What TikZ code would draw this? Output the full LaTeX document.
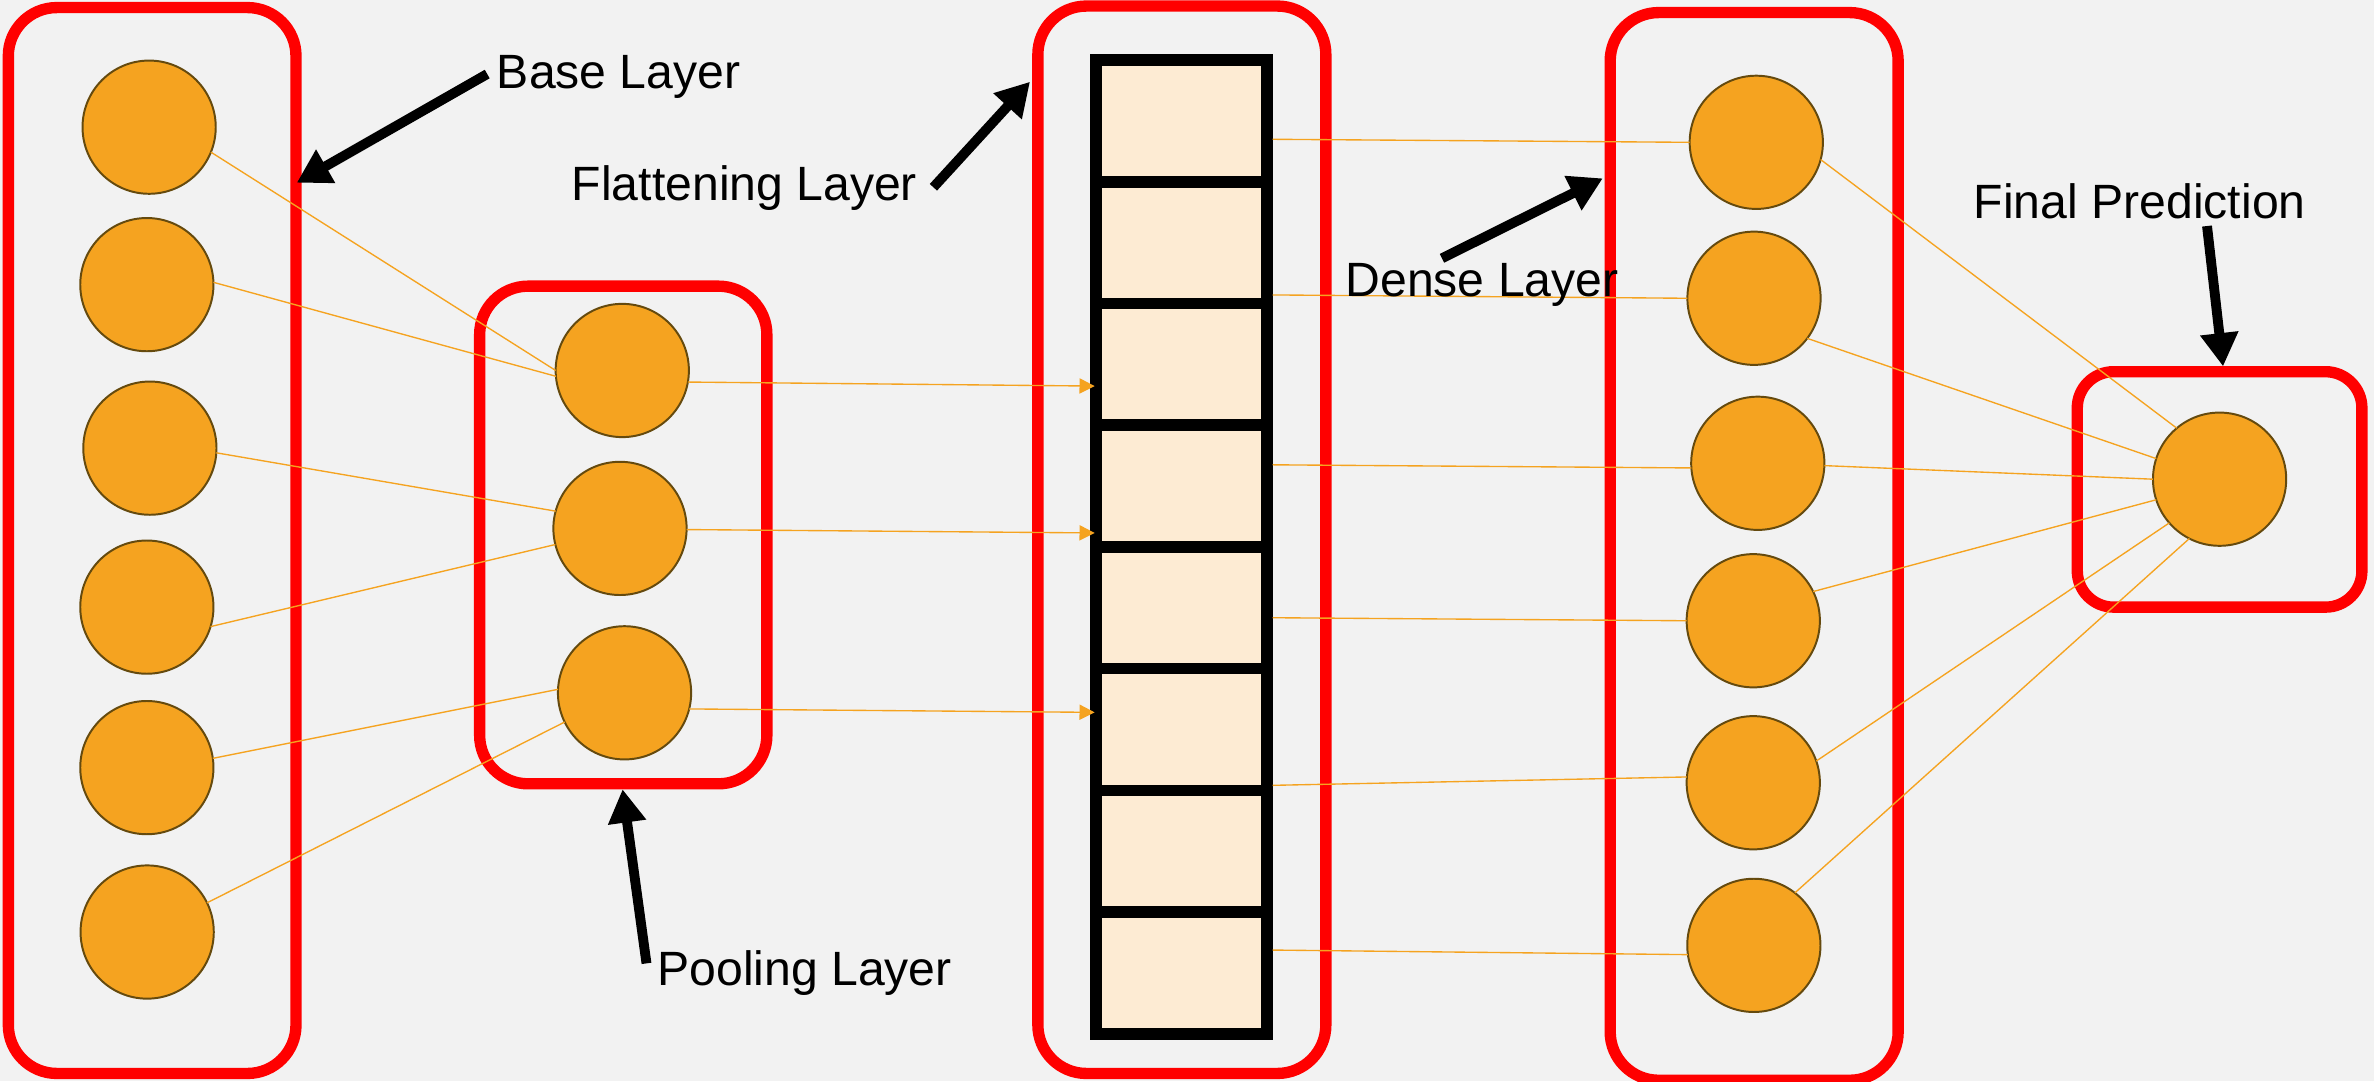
\documentclass[tikz,border=0pt]{standalone}
\usepackage{fontspec}
\setmainfont{Liberation Sans}
\usetikzlibrary{arrows.meta}
\definecolor{bg}{HTML}{F2F2F2}
\definecolor{boxred}{HTML}{FF0000}
\definecolor{neuron}{HTML}{F5A320}
\definecolor{neuronedge}{HTML}{654A0E}
\definecolor{cellfill}{HTML}{FDEBD3}
\tikzset{
  groupbox/.style={draw=boxred, line width=7.5pt, rounded corners=32pt, inner sep=0pt, outer sep=0pt},
  neuronnode/.style={circle, draw=neuronedge, fill=neuron, line width=1.3pt, minimum size=88pt, inner sep=0pt, outer sep=0pt},
  cellnode/.style={rectangle, draw=black, fill=cellfill, line width=7.7pt, minimum width=112.8pt, minimum height=80.4pt, inner sep=0pt},
  link/.style={draw=neuron, line width=0.9pt},
  feed/.style={draw=neuron, line width=0.9pt, -{Triangle[length=10pt,width=10pt]}},
  pointer/.style={draw=black, line width=6.5pt, -{Triangle[length=22pt,width=24pt]}},
  caption/.style={font=\fontsize{31.8pt}{36pt}\selectfont, inner sep=0pt, anchor=base west}
}
\begin{document}
\begin{tikzpicture}[x=1pt,y=-1pt]
\fill[bg] (0,0) rectangle (1568,714);
\useasboundingbox (0,0) rectangle (1568,714);

% group boxes
\node[groupbox, minimum width=190pt, minimum height=704pt] (basebox) at (100.5,357) {};
\node[groupbox, minimum width=189.7pt, minimum height=328.7pt] (poolbox) at (411.65,353.35) {};
\node[groupbox, minimum width=190.2pt, minimum height=705pt] (flatbox) at (780.6,356.5) {};
\node[groupbox, minimum width=190.2pt, minimum height=705.2pt] (densebox) at (1158.6,360.9) {};
\node[groupbox, rounded corners=24pt, minimum width=188pt, minimum height=155.5pt] (finalbox) at (1466,323.25) {};

% flattening cells
\foreach \i in {1,...,8} {
  \node[cellnode] (c\i) at (780.4,{39.6+80.4*(\i-0.5)}) {};
}

% neurons
\node[neuronnode] (b1) at (98.5,84) {};
\node[neuronnode] (b2) at (97,188) {};
\node[neuronnode] (b3) at (99,296) {};
\node[neuronnode] (b4) at (97,401) {};
\node[neuronnode] (b5) at (97,507) {};
\node[neuronnode] (b6) at (97.2,615.6) {};

\node[neuronnode] (p1) at (411,244.7) {};
\node[neuronnode] (p2) at (409.5,349) {};
\node[neuronnode] (p3) at (412.5,457.6) {};

\node[neuronnode] (d1) at (1160,94) {};
\node[neuronnode] (d2) at (1158.5,197) {};
\node[neuronnode] (d3) at (1161,306) {};
\node[neuronnode] (d4) at (1158,410) {};
\node[neuronnode] (d5) at (1158,517) {};
\node[neuronnode] (d6) at (1158.4,624.4) {};

\node[neuronnode] (f) at (1466,316.5) {};

% free ends on the flattening column
\coordinate (t1) at (723,255);
\coordinate (t2) at (723,352);
\coordinate (t3) at (723,470.5);
\coordinate (s1) at (840.6,92);
\coordinate (s2) at (840.6,194.8);
\coordinate (s3) at (840.6,307);
\coordinate (s4) at (840.6,408);
\coordinate (s5) at (840.6,518.7);
\coordinate (s6) at (840.6,627.5);

% base -> pooling
\draw[link] (b1.-22.5) -- (p1.180);
\draw[link] (b2.2) -- (p1.185);
\draw[link] (b3.-4) -- (p2.165);
\draw[link] (b4.-17.4) -- (p2.194);
\draw[link] (b5.8.7) -- (p3.177.5);
\draw[link] (b6.26.7) -- (p3.206);

% pooling -> flattening
\draw[feed] (p1.-10) -- (t1);
\draw[feed] (p2.-1) -- (t2);
\draw[feed] (p3.-14) -- (t3);

% flattening -> dense
\draw[link] (s1) -- (d1.180);
\draw[link] (s2) -- (d2.180);
\draw[link] (s3) -- (d3.184);
\draw[link] (s4) -- (d4.180);
\draw[link] (s5) -- (d5.175);
\draw[link] (s6) -- (d6.188);

% dense -> final
\draw[link] (d1.-15) -- (f.130);
\draw[link] (d2.-37) -- (f.162);
\draw[link] (d3.-2) -- (f.180);
\draw[link] (d4.26) -- (f.198);
\draw[link] (d5.19) -- (f.221);
\draw[link] (d6.52) -- (f.243);

% labels
\node[caption] (lbase) at (328,58.3) {Base Layer};
\node[caption] (lflat) at (377.5,132.5) {Flattening Layer};
\node[caption] (ldense) at (888.5,196) {Dense Layer};
\node[caption] (lfinal) at (1303.5,144.2) {Final Prediction};
\node[caption] (lpool) at (434,650.6) {Pooling Layer};

% pointer arrows
\coordinate (abase0) at (321.8,48.9);   \coordinate (abase1) at (196,120.7);
\coordinate (aflat0) at (616.5,123.7);  \coordinate (aflat1) at (680.3,54);
\coordinate (adense0) at (952.4,170.6); \coordinate (adense1) at (1058.6,117.8);
\coordinate (afinal0) at (1457.7,149.3);\coordinate (afinal1) at (1468.3,242);
\coordinate (apool0) at (427,636.3);    \coordinate (apool1) at (411.2,521.3);
\draw[pointer] (abase0) -- (abase1);
\draw[pointer] (aflat0) -- (aflat1);
\draw[pointer] (adense0) -- (adense1);
\draw[pointer] (afinal0) -- (afinal1);
\draw[pointer] (apool0) -- (apool1);
\end{tikzpicture}
\end{document}
